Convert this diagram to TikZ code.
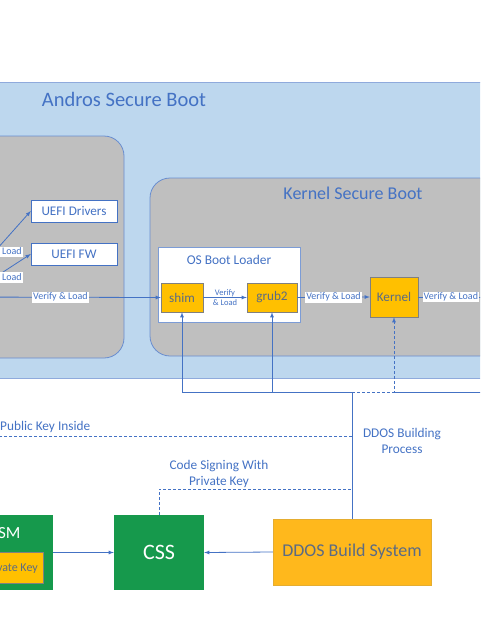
\documentclass[tikz,border=0pt]{standalone}
\usepackage{fontspec}
\setmainfont{Carlito}
\usepackage{tikz}
\usetikzlibrary{arrows,positioning}

\definecolor{lineblue}{HTML}{4472C4}
\definecolor{frameblue}{HTML}{8FAADC}
\definecolor{skyfill}{HTML}{BDD7EE}
\definecolor{greyfill}{HTML}{BFBFBF}
\definecolor{ambfill}{HTML}{FFC000}
\definecolor{buildfill}{HTML}{FFB81C}
\definecolor{cssgreen}{HTML}{16994C}
\definecolor{boxtext}{HTML}{5B6B84}

\tikzset{
	uefibox/.style={draw=lineblue, fill=white, text=lineblue, minimum width=86pt, minimum height=22pt, inner sep=0pt, font=\fontsize{13.2}{15}\selectfont},
	stagebox/.style={draw=gray, fill=ambfill, text=boxtext, inner sep=0pt, font=\fontsize{13.2}{15}\selectfont},
	greenbox/.style={fill=cssgreen, text=white, inner sep=0pt},
	loadlbl/.style={fill=white, text=lineblue, inner sep=1pt, font=\fontsize{10}{11}\selectfont},
	bluetext/.style={text=lineblue, font=\fontsize{13.3}{16}\selectfont, align=center},
	conn/.style={lineblue, line width=0.8pt},
	dashconn/.style={lineblue, line width=0.8pt, dash pattern=on 3pt off 2pt}
}

\begin{document}
\begin{tikzpicture}[x=1pt,y=-1pt]
	\useasboundingbox (0,0) rectangle (480,629);
	\clip (0,0) rectangle (480,629);
	% outer frame
	\draw [frameblue, fill=skyfill, line width=1pt] (-20,82) rectangle (500,378);
	\node [text=lineblue, font=\fontsize{20.5}{23}\selectfont] (andros) at (124,99) {Andros Secure Boot};
	% uefi part
	\draw [lineblue!80, fill=greyfill, line width=0.8pt, rounded corners=20pt] (-40,136) rectangle (124,358);
	\node [uefibox] (drivers) at (74,211) {UEFI Drivers};
	\node [uefibox] (fw) at (74,254) {UEFI FW};
	\coordinate (uefisb) at (-60,313);
	\coordinate (fwout) at (-40,297);
	% kernel part
	\draw [lineblue!80, fill=greyfill, line width=0.8pt, rounded corners=20pt] (150,178) rectangle (540,356);
	\node [text=lineblue, font=\fontsize{18}{20}\selectfont] (kernsb) at (353,193) {Kernel Secure Boot};
	\node [draw=lineblue!70, fill=white, minimum width=142pt, minimum height=75pt] (osbl) at (229,284.5) {};
	\node [text=lineblue, font=\fontsize{13.4}{15}\selectfont] (osbltitle) at (229,260) {OS Boot Loader};
	\node [stagebox, minimum width=42pt, minimum height=29pt] (shim) at (182,297.5) {shim};
	\node [stagebox, minimum width=50pt, minimum height=29pt] (grub) at (272,297.5) {grub2};
	\node [stagebox, minimum width=48pt, minimum height=40pt] (kernel) at (394,297) {Kernel};
	\coordinate (kout) at (540,297);
	% load chain
	\draw [conn, -latex] (uefisb) -- node [loadlbl, pos=0.6] {Verify \& Load} (drivers.west);
	\draw [conn, -latex] (uefisb) -- node [loadlbl, pos=0.6] {Verify \& Load} (fw.west);
	\draw [conn, -latex] (fwout) -- node [loadlbl] {Verify \& Load} (shim.west);
	\draw [conn, -latex] (shim.east) -- node [text=lineblue, inner sep=0pt, align=center, font=\fontsize{8.5}{9.5}\selectfont] {Verify\\\& Load} (grub.west);
	\draw [conn, -latex] (grub.east) -- node [loadlbl] {Verify \& Load} (kernel.west);
	\draw [conn] (kernel.east) -- node [loadlbl, pos=0, anchor=west, xshift=4pt] {Verify \& Load} (kout);
	% build system
	\node [greenbox, minimum width=93pt, minimum height=75pt] (hsm) at (6.5,552.5) {};
	\node [text=white, anchor=east, font=\fontsize{17}{19}\selectfont] (hsmlbl) at (24,533) {HSM};
	\node [draw=gray, fill=ambfill, minimum width=83pt, minimum height=31pt] (privkey) at (1.5,567.5) {};
	\node [text=boxtext, anchor=east, inner sep=0pt, font=\fontsize{12}{14}\selectfont] (privlbl) at (38,568) {Private Key};
	\node [greenbox, minimum width=90pt, minimum height=75pt, font=\fontsize{22}{24}\selectfont] (css) at (159,552.5) {CSS};
	\node [draw=buildfill!80!gray, fill=buildfill, text=boxtext, minimum width=158pt, minimum height=66pt, font=\fontsize{18}{20}\selectfont] (ddos) at (352,552) {DDOS Build System};
	\draw [conn, -latex] (hsm.east) -- (css.west);
	\draw [conn, -latex] (ddos.west) -- (css.east);
	% key distribution
	\coordinate (jn) at (352,392);
	\coordinate (rightend) at (500,392);
	\coordinate (pkjoin) at (352,436);
	\coordinate (pkend) at (-20,436);
	\coordinate (csjoin) at (352,489);
	\draw [conn] (ddos.north) -- (jn);
	\draw [conn, -latex] (jn) -| (shim.south);
	\draw [conn, -latex] (jn) -| (grub.south);
	\draw [dashconn, -latex] (jn) -| (kernel.south);
	\draw [conn] (kernel.south |- jn) -- (rightend);
	\draw [dashconn] (pkjoin) -- (pkend);
	\draw [dashconn] (css.north) |- (csjoin);
	\node [bluetext, anchor=south west, inner sep=1pt] (pklbl) at (-1,434) {Public Key Inside};
	\node [bluetext] (ddoslbl) at (402,441) {DDOS Building\\Process};
	\node [bluetext] (cslbl) at (219,474) {Code Signing With\\Private Key};
\end{tikzpicture}
\end{document}
